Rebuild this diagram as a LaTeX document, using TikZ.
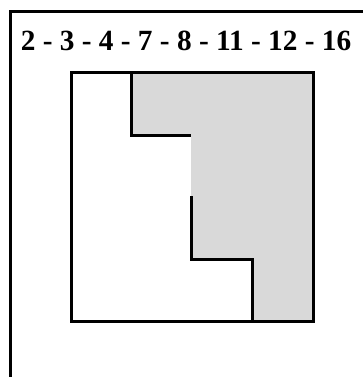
\documentclass[tikz,border=0pt]{standalone}
\usepackage{fontspec}
\setmainfont{Liberation Serif}
\definecolor{cellgray}{HTML}{D9D9D9}
\begin{document}
\begin{tikzpicture}[x=1pt,y=-1pt,
  edge/.style={line width=3pt},
  thin edge/.style={line width=3pt, line cap=rect}]
\useasboundingbox (0,0) rectangle (363,377);
% frame
\draw[edge] (10,377) -- (10,12) -- (363,12);
% title
\node[anchor=base, inner sep=0pt, font=\bfseries\fontsize{29.3}{32}\selectfont] (title) at (186,51) {2 - 3 - 4 - 7 - 8 - 11 - 12 - 16};
% gray region
\fill[cellgray] (131,73) -- (313,73) -- (313,321) -- (252,321) -- (252,259) -- (191,259) -- (191,135) -- (131,135) -- cycle;
% staircase lines
\draw[edge] (131,73) -- (131,135) -- (191,135);
\draw[edge] (191,196) -- (191,259) -- (252,259) -- (252,321);
% square
\draw[edge] (71,73) rectangle (313,321);
\end{tikzpicture}
\end{document}
